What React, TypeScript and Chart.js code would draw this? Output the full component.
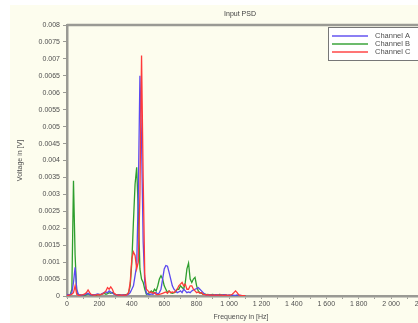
import { useEffect, useRef } from "react";
import { Chart, registerables } from "chart.js";

Chart.register(...registerables);

const TITLE = "Input PSD";
const X_TITLE = "Frequency in [Hz]";
const Y_TITLE = "Voltage in [V]";
const SERIES_NAMES = ["Channel A", "Channel B", "Channel C"];
const SERIES_COLORS = ["#5a48f0", "#2e9e2e", "#ff3a3a"];

const FREQ = [
  0, 10, 20, 30, 40, 50, 60, 70, 80, 90,
  100, 110, 120, 130, 140, 150, 160, 170, 180, 190,
  200, 210, 220, 230, 240, 250, 260, 270, 280, 290,
  300, 310, 320, 330, 340, 350, 360, 370, 380, 390,
  400, 410, 420, 430, 440, 450, 460, 470, 480, 490,
  500, 510, 520, 530, 540, 550, 560, 570, 580, 590,
  600, 610, 620, 630, 640, 650, 660, 670, 680, 690,
  700, 710, 720, 730, 740, 750, 760, 770, 780, 790,
  800, 810, 820, 830, 840, 850, 860, 870, 880, 890,
  900, 910, 920, 930, 940, 950, 960, 970, 980, 990,
  1000, 1010, 1020, 1030, 1040, 1050, 1060, 1070, 1080, 1090, 1100,
];

const CHANNEL_A = [
  0.00005, 0.00003, 0.00004, 0.0001, 0.0004, 0.00085, 0.0002, 0.00005, 0.00003, 0.00002,
  0.00003, 0.00004, 0.00006, 0.00008, 0.00005, 0.00003, 0.00004, 0.00003, 0.00005, 0.00006,
  0.00004, 0.00005, 0.00008, 0.0001, 0.00012, 0.0001, 0.00015, 0.00012, 0.00008, 0.00006,
  0.00004, 0.00003, 0.00003, 0.00002, 0.00003, 0.00003, 0.00002, 0.00003, 0.00005, 0.0001,
  0.0002, 0.0003, 0.0006, 0.0009, 0.003, 0.0065, 0.0046, 0.0016, 0.0004, 0.00008,
  0.00005, 0.00004, 0.00006, 0.00005, 0.00008, 0.0001, 0.00005, 0.0001, 0.0002, 0.0005,
  0.0008, 0.0009, 0.00088, 0.0007, 0.0005, 0.0003, 0.0002, 0.00015, 0.0001, 0.00012,
  0.00015, 0.0001, 0.0002, 0.00015, 0.0001, 0.00012, 0.0001, 0.00015, 0.00018, 0.0002,
  0.00022, 0.00025, 0.0002, 0.00015, 0.0001, 0.00005, 0.00003, 0.00004, 0.00003, 0.00002,
  0.00003, 0.00002, 0.00004, 0.00003, 0.00002, 0.00003, 0.00002, 0.00004, 0.00003, 0.00002,
  0.00003, 0.00002, 0.00003, 0.00002, 0.00002, 0.00003, 0.00002, 0.00002, 0.00001, 0.00001, 0.00001,
];

const CHANNEL_B = [
  0.00002, 0.00003, 0.00004, 0.0002, 0.0034, 0.0012, 0.0001, 0.00004, 0.00003, 0.00002,
  0.00003, 0.00002, 0.00004, 0.00006, 0.00004, 0.00003, 0.00002, 0.00003, 0.00002, 0.00004,
  0.00005, 0.00004, 0.00006, 0.00008, 0.00005, 0.00007, 0.0001, 0.00008, 0.0001, 0.00006,
  0.00004, 0.00003, 0.00004, 0.00003, 0.00002, 0.00003, 0.00004, 0.00005, 0.0001, 0.0003,
  0.001, 0.0022, 0.0033, 0.0038, 0.0025, 0.0008, 0.0005, 0.0004, 0.0002, 0.00005,
  0.00008, 0.0001, 0.00015, 0.0001, 0.0002, 0.00015, 0.0003, 0.0005, 0.0006, 0.0005,
  0.0003, 0.0002, 0.0001, 0.00015, 0.0001, 0.00008, 0.0001, 0.00012, 0.0002, 0.0002,
  0.0003, 0.00025, 0.0002, 0.0004, 0.0008, 0.00097, 0.0005, 0.0004, 0.0005, 0.00055,
  0.0003, 0.00015, 0.0001, 0.00008, 0.00005, 0.00006, 0.00004, 0.00005, 0.00003, 0.00004,
  0.00005, 0.00003, 0.00004, 0.00003, 0.00005, 0.00004, 0.00003, 0.00004, 0.00003, 0.00002,
  0.00002, 0.00001, 0.00001, 0.00001, 0.00001, 0.00001, 0.00001, 0.00001, 0.00001, 0.00001, 0.00001,
];

const CHANNEL_C = [
  0.00002, 0.00002, 0.00003, 0.00005, 0.0001, 0.0003, 0.00005, 0.00002, 0.00002, 0.00003,
  0.00004, 0.00006, 0.0001, 0.00018, 0.0001, 0.00004, 0.00003, 0.00002, 0.00003, 0.00004,
  0.00003, 0.00005, 0.00006, 0.0001, 0.00015, 0.00025, 0.0002, 0.00027, 0.0002, 0.00008,
  0.00005, 0.00003, 0.00002, 0.00003, 0.00002, 0.00003, 0.00002, 0.00004, 0.0001, 0.0004,
  0.0011, 0.0013, 0.0012, 0.0008, 0.001, 0.003, 0.0071, 0.0035, 0.0006, 0.0002,
  0.00015, 0.0001, 0.00012, 0.00008, 0.0001, 0.00005, 0.00004, 0.00005, 0.00006, 0.00008,
  0.0001, 0.00012, 0.00008, 0.00015, 0.0001, 0.00012, 0.0001, 0.00015, 0.0002, 0.0003,
  0.00035, 0.0004, 0.0003, 0.00035, 0.0002, 0.0002, 0.0003, 0.0003, 0.0002, 0.00015,
  0.0001, 0.00012, 0.00008, 0.0001, 0.00005, 0.00004, 0.00003, 0.00004, 0.00002, 0.00003,
  0.00002, 0.00003, 0.00002, 0.00003, 0.00002, 0.00003, 0.00002, 0.00002, 0.00003, 0.00002,
  0.00002, 0.00003, 0.00005, 0.0001, 0.00015, 0.0001, 0.00003, 0.00002, 0.00001, 0.00001, 0.00001,
];

const SERIES = [CHANNEL_A, CHANNEL_B, CHANNEL_C];

const FONT = '"Liberation Sans", Arial, sans-serif';
const TEXT_COLOR = "#505050";
const AXIS_COLOR = "#9a9a94";
const BG = "#fdfdee";

function fmtX(v: number): string {
  if (v >= 1000) {
    const th = Math.floor(v / 1000);
    const rest = String(v % 1000).padStart(3, "0");
    return `${th} ${rest}`;
  }
  return String(v);
}

const decorPlugin = {
  id: "decor",
  afterDraw(chart: any) {
    const ctx = chart.ctx as CanvasRenderingContext2D;
    const a = chart.chartArea;
    ctx.save();
    // top frame
    ctx.strokeStyle = AXIS_COLOR;
    ctx.lineWidth = 2.5;
    ctx.beginPath();
    ctx.moveTo(a.left, a.top);
    ctx.lineTo(a.right, a.top);
    ctx.stroke();

    // title
    ctx.fillStyle = "#404040";
    ctx.font = `7px ${FONT}`;
    ctx.textAlign = "center";
    ctx.textBaseline = "middle";
    ctx.fillText(TITLE, 230, a.top - 11);

    // x title
    ctx.fillStyle = TEXT_COLOR;
    ctx.fillText(X_TITLE, 231, chart.height - 6);

    // legend
    const lx = 318;
    const ly = 22;
    ctx.fillStyle = "#ffffff";
    ctx.fillRect(lx, ly, chart.width - lx, 34);
    ctx.strokeStyle = "#777777";
    ctx.lineWidth = 1;
    ctx.strokeRect(lx + 0.5, ly + 0.5, chart.width, 33);
    ctx.font = `7.5px ${FONT}`;
    ctx.textAlign = "left";
    SERIES_NAMES.forEach((name, i) => {
      const y = ly + 9 + i * 8;
      ctx.strokeStyle = SERIES_COLORS[i];
      ctx.globalAlpha = 0.7;
      ctx.lineWidth = 2;
      ctx.beginPath();
      ctx.moveTo(lx + 4, y);
      ctx.lineTo(lx + 40, y);
      ctx.stroke();
      ctx.globalAlpha = 1;
      ctx.fillStyle = TEXT_COLOR;
      ctx.fillText(name, lx + 47, y);
    });
    ctx.restore();
  },
};

export default function App() {
  const ref = useRef<HTMLCanvasElement | null>(null);

  useEffect(() => {
    if (!ref.current) return;
    const chart = new Chart(ref.current, {
      type: "line",
      data: {
        datasets: SERIES.map((vals, i) => ({
          label: SERIES_NAMES[i],
          data: FREQ.map((f, j) => ({ x: f, y: vals[j] })),
          borderColor: SERIES_COLORS[i],
          borderWidth: 1.3,
          pointRadius: 0,
          tension: 0,
          fill: false,
          order: i === 2 ? 0 : i === 0 ? 1 : 2,
        })),
      },
      options: {
        animation: false,
        responsive: false,
        maintainAspectRatio: false,
        layout: { padding: { left: 0, right: 20, top: 20, bottom: 0 } },
        plugins: {
          legend: { display: false },
          title: { display: false },
          tooltip: { enabled: false },
        },
        scales: {
          x: {
            type: "linear",
            min: 0,
            max: 2240,
            afterFit: (s: any) => {
              s.height = 27;
            },
            ticks: {
              stepSize: 100,
              includeBounds: false,
              autoSkip: false,
              maxRotation: 0,
              padding: 1,
              color: TEXT_COLOR,
              font: { size: 7, family: FONT },
              callback: (v: any) => (Number(v) % 200 === 0 ? fmtX(Number(v)) : ""),
            },
            grid: {
              drawOnChartArea: false,
              drawTicks: true,
              tickLength: 3,
              color: AXIS_COLOR,
            },
            border: { color: AXIS_COLOR, width: 2.5 },
          },
          y: {
            min: 0,
            max: 0.008,
            afterFit: (s: any) => {
              s.width = 57;
            },
            ticks: {
              stepSize: 0.0005,
              autoSkip: false,
              padding: 3,
              color: TEXT_COLOR,
              font: { size: 7, family: FONT },
              callback: (v: any) => String(Number(Number(v).toFixed(4))),
            },
            grid: {
              drawOnChartArea: false,
              drawTicks: true,
              tickLength: 4,
              color: AXIS_COLOR,
            },
            border: { color: AXIS_COLOR, width: 2.5 },
            title: {
              display: true,
              text: Y_TITLE,
              color: TEXT_COLOR,
              font: { size: 7, family: FONT },
              padding: { top: 6, bottom: 0 },
            },
          },
        },
      },
      plugins: [decorPlugin],
    });
    return () => chart.destroy();
  }, []);

  return (
    <div
      style={{
        position: "absolute",
        left: 10,
        top: 5,
        width: 408,
        height: 318,
        overflow: "hidden",
        background: BG,
      }}
    >
      <canvas ref={ref} width={440} height={318} style={{ display: "block", width: 440, height: 318 }} />
    </div>
  );
}
